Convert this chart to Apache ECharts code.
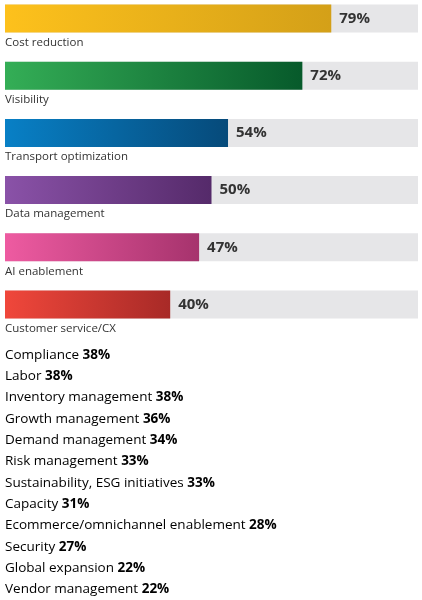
<!DOCTYPE html>
<html>
<head>
<meta charset="utf-8">
<script src="https://cdn.jsdelivr.net/npm/echarts@6/dist/echarts.min.js"></script>
<style>
    html, body { margin: 0; padding: 0; background: #fff; overflow: hidden; }
    #chart { width: 422px; height: 610px; position: relative; top: -10px; }
</style>
</head>
<body>
<div id="chart"></div>
<script>
    // top six, drawn as bars
    var topNames = ['Cost reduction', 'Visibility', 'Transport optimization', 'Data management', 'AI enablement', 'Customer service/CX'];
    var topValues = [79, 72, 54, 50, 47, 40];
    var topColors = [
        ['#fdc11c', '#d4a018'],
        ['#34ae56', '#075a2b'],
        ['#0880c6', '#064a7a'],
        ['#8a52a8', '#552a6a'],
        ['#ee5ba1', '#a6336d'],
        ['#f0473b', '#a82a27']
    ];
    // the rest, plain text list
    var restNames = ['Compliance', 'Labor', 'Inventory management', 'Growth management', 'Demand management',
        'Risk management', 'Sustainability, ESG initiatives', 'Capacity', 'Ecommerce/omnichannel enablement',
        'Security', 'Global expansion', 'Vendor management'];
    var restValues = [38, 38, 38, 36, 34, 33, 33, 31, 28, 27, 22, 22];

    var fontName = 'Open Sans';
    var chart = echarts.init(document.getElementById('chart'));

    var barData = [];
    var bgData = [];
    for (var i = 0; i < topValues.length; i++) {
        barData.push({
            value: topValues[i],
            itemStyle: {
                color: new echarts.graphic.LinearGradient(0, 0, 1, 0, [
                    {offset: 0, color: topColors[i][0]},
                    {offset: 1, color: topColors[i][1]}
                ])
            }
        });
        bgData.push(100);
    }

    var listItems = [];
    for (var j = 0; j < restNames.length; j++) {
        listItems.push({
            type: 'text',
            left: 5,
            top: 358 + j * 21.3,
            style: {
                text: '{n|' + restNames[j] + ' }{v|' + restValues[j] + '%}',
                rich: {
                    n: {fontFamily: fontName, fontSize: 13.5, color: '#333'},
                    v: {fontFamily: fontName, fontSize: 13.5, fontWeight: 'bold', color: '#333'}
                }
            }
        });
    }

    var option = {
        animation: false,
        grid: {left: 5, right: 4, top: 0, height: 343},
        xAxis: {type: 'value', min: 0, max: 100, show: false},
        yAxis: {
            type: 'category',
            inverse: true,
            data: topNames,
            show: false
        },
        series: [
            {
                type: 'bar',
                data: bgData,
                barWidth: 28,
                barGap: '-100%',
                silent: true,
                itemStyle: {color: '#e6e6e8'},
                label: {
                    show: true,
                    position: [0, 32],
                    formatter: '{b}',
                    fontFamily: fontName,
                    fontSize: 11.5,
                    color: '#333'
                }
            },
            {
                type: 'bar',
                data: barData,
                barWidth: 28,
                label: {
                    show: true,
                    position: 'right',
                    distance: 8,
                    formatter: '{c}%',
                    fontFamily: fontName,
                    fontSize: 15,
                    fontWeight: 'bold',
                    color: '#333'
                }
            }
        ],
        graphic: listItems
    };
    chart.setOption(option);
</script>
</body>
</html>
